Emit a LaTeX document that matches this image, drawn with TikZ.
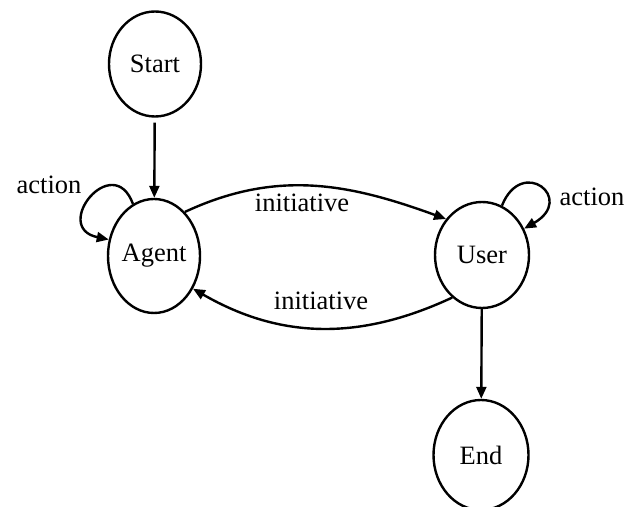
\documentclass[tikz,border=0pt]{standalone}
\usepackage{fontspec}
\setmainfont{Liberation Serif}
\usetikzlibrary{shapes.geometric,arrows.meta}
\begin{document}
\begin{tikzpicture}[x=1pt,y=1pt,
  state/.style={ellipse,draw,line width=2.4pt,inner sep=0pt,font=\fontsize{26.5}{30}\selectfont},
  edge/.style={line width=2.4pt,-{Triangle[length=12pt,width=10pt]}},
  lbl/.style={font=\fontsize{26.5}{30}\selectfont,inner sep=0pt}]
\useasboundingbox (0,0) rectangle (634,506);
\node[state,minimum width=92pt,minimum height=105pt] (S) at (155,442) {Start};
\node[state,minimum width=92pt,minimum height=114pt] (A) at (154,250) {Agent};
\node[state,minimum width=94pt,minimum height=106pt] (U) at (482,251) {User};
\node[state,minimum width=95pt,minimum height=110pt] (E) at (481,51) {End};
\draw[edge,shorten <=5pt] (S) -- (A);
\draw[edge] (U) -- (E);
\draw[edge] (A.55) to[out=25,in=160] (U.135);
\draw[edge] (U.235) to[out=205,in=-30] (A.320);
\draw[edge] (A.112) .. controls +(-20,54) and +(-58,12) .. (A.160);
\draw[edge] (U.68) .. controls +(20,50) and +(52,30) .. (U.32);
\node[lbl] (la) at (49,321) {action};
\node[lbl] (lu) at (592,309) {action};
\node[lbl] (it) at (302,303) {initiative};
\node[lbl] (ib) at (321,205) {initiative};
\end{tikzpicture}
\end{document}
